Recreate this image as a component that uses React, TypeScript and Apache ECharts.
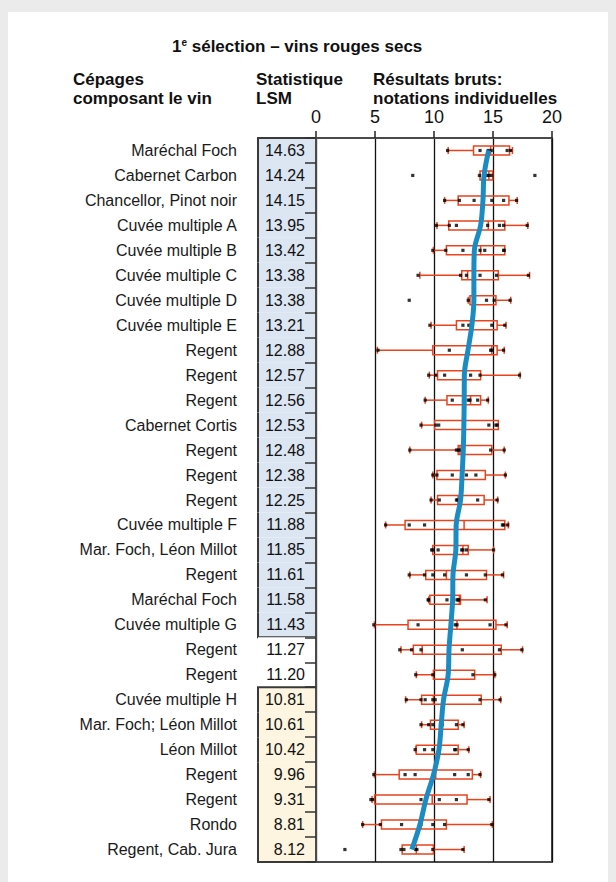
import React, { useEffect, useRef } from "react";
import * as echarts from "echarts";

const names = [
  "Maréchal Foch", "Cabernet Carbon", "Chancellor, Pinot noir", "Cuvée multiple A",
  "Cuvée multiple B", "Cuvée multiple C", "Cuvée multiple D", "Cuvée multiple E",
  "Regent", "Regent", "Regent", "Cabernet Cortis", "Regent", "Regent", "Regent",
  "Cuvée multiple F", "Mar. Foch, Léon Millot", "Regent", "Maréchal Foch",
  "Cuvée multiple G", "Regent", "Regent", "Cuvée multiple H", "Mar. Foch; Léon Millot",
  "Léon Millot", "Regent", "Regent", "Rondo", "Regent, Cab. Jura",
];

const lsm = [
  14.63, 14.24, 14.15, 13.95, 13.42, 13.38, 13.38, 13.21, 12.88, 12.57, 12.56, 12.53,
  12.48, 12.38, 12.25, 11.88, 11.85, 11.61, 11.58, 11.43, 11.27, 11.2, 10.81, 10.61,
  10.42, 9.96, 9.31, 8.81, 8.12,
];

// a = top group (blue), n = no group, b = bottom group (yellow)
const groups = [
  "a", "a", "a", "a", "a", "a", "a", "a", "a", "a", "a", "a", "a", "a", "a", "a", "a", "a", "a", "a",
  "n", "n",
  "b", "b", "b", "b", "b", "b", "b",
];

// [min, q1, median, q3, max]
const boxStats = [
  [11.2, 13.35, 14.8, 16.4, 16.65],
  [13.9, 13.9, 14.65, 14.97, 14.97],
  [10.9, 12.05, 14.1, 16.35, 17.05],
  [10.25, 11.25, 14.6, 16.0, 17.95],
  [9.95, 11.05, 13.95, 16.0, 16.0],
  [8.8, 12.35, 12.85, 15.45, 18.1],
  [12.9, 13.05, 13.4, 15.25, 16.5],
  [9.75, 11.9, 13.1, 15.35, 16.1],
  [5.2, 9.9, 14.9, 15.35, 15.95],
  [9.6, 10.3, 12.6, 13.95, 17.3],
  [9.25, 11.1, 13.1, 13.95, 14.6],
  [8.95, 10.05, 12.5, 15.45, 15.45],
  [7.95, 12.05, 12.2, 14.9, 15.95],
  [9.9, 10.25, 12.4, 14.35, 16.05],
  [9.75, 10.3, 12.05, 14.25, 15.4],
  [5.9, 7.55, 12.55, 16.0, 16.3],
  [9.9, 9.9, 12.45, 12.9, 15.05],
  [7.95, 9.3, 11.05, 14.45, 15.9],
  [9.55, 9.65, 12.15, 12.25, 14.5],
  [4.95, 7.8, 11.95, 15.25, 16.2],
  [7.2, 8.25, 9.0, 15.7, 17.5],
  [8.5, 9.95, 11.2, 13.45, 15.15],
  [7.6, 8.95, 9.95, 14.0, 15.65],
  [8.95, 9.7, 10.55, 12.05, 12.55],
  [8.45, 8.5, 10.5, 12.05, 12.95],
  [4.95, 7.05, 10.15, 13.25, 13.95],
  [4.75, 4.97, 9.85, 12.8, 14.75],
  [3.95, 5.55, 8.9, 11.05, 14.95],
  [7.3, 7.3, 8.5, 9.95, 12.55],
];

const ratings = [
  [11.15, 13.9, 14.6, 14.85, 16.2, 16.5],
  [8.2, 13.85, 14.5, 14.65, 14.85, 18.55],
  [10.9, 12.15, 13.4, 14.9, 15.9, 17.0],
  [10.2, 11.3, 11.9, 14.55, 15.55, 15.9, 17.9],
  [9.9, 11.0, 12.45, 13.9, 14.3, 15.9, 15.95],
  [8.65, 12.25, 12.75, 13.9, 15.3, 18.0],
  [7.9, 12.9, 13.4, 14.45, 15.1, 16.45],
  [9.65, 12.45, 12.95, 14.9, 16.0],
  [5.25, 11.3, 14.8, 14.9, 15.9],
  [9.55, 10.15, 10.9, 12.55, 13.1, 13.9, 17.25],
  [9.25, 11.55, 12.9, 13.05, 13.7, 14.55],
  [8.9, 10.15, 10.4, 14.65, 15.25, 15.35],
  [7.95, 11.9, 12.05, 12.2, 12.45, 14.8, 15.95],
  [9.9, 10.25, 11.55, 12.75, 13.55, 16.05],
  [9.75, 10.45, 11.9, 12.0, 13.7, 15.35],
  [5.9, 7.9, 9.2, 15.8, 15.9, 16.25],
  [9.8, 9.9, 10.35, 12.35, 12.45, 12.75, 15.05],
  [7.9, 9.2, 9.9, 10.9, 12.75, 14.35, 15.8],
  [9.5, 9.55, 11.1, 11.95, 12.05, 12.1, 14.35],
  [4.9, 8.65, 11.8, 11.95, 14.75, 16.1],
  [7.1, 8.1, 8.9, 12.4, 15.55, 17.45],
  [8.45, 9.9, 11.2, 13.3, 15.15],
  [7.65, 8.9, 9.25, 9.9, 10.1, 13.9, 15.6],
  [8.9, 9.55, 9.9, 10.55, 10.7, 11.9, 12.45],
  [8.4, 9.2, 9.9, 11.75, 11.85, 12.9],
  [4.9, 7.55, 8.4, 11.75, 12.9, 13.9],
  [4.65, 4.8, 8.9, 10.45, 11.9, 14.65],
  [3.95, 5.45, 7.25, 8.9, 9.9, 10.9, 14.9],
  [2.45, 7.2, 7.45, 8.45, 8.55, 9.9, 12.45],
];

const xMin = 0;
const xMax = 20;
const xStep = 5;

const FONT = "'Liberation Sans', Arial, Helvetica, sans-serif";
const BOX = "#e8431d";
const BLUE = "#1b8bc3";

export default function App() {
  const ref = useRef<HTMLDivElement>(null);

  useEffect(() => {
    document.body.style.margin = "0";
    const chart = echarts.init(ref.current as HTMLDivElement, null, { renderer: "svg" });
    const rowIds = names.map((_, i) => String(i));

    const option: any = {
      animation: false,
      backgroundColor: "transparent",
      textStyle: { fontFamily: FONT },
      grid: {
        left: 316, right: 64, top: 138, bottom: 20,
        show: true, borderColor: "#4a4a4a", borderWidth: 2, backgroundColor: "#fff",
      },
      xAxis: {
        type: "value", position: "top", min: xMin, max: xMax, interval: xStep,
        axisLine: { show: true, lineStyle: { color: "#4a4a4a", width: 2 } },
        axisTick: { show: true, length: 7, lineStyle: { color: "#222", width: 1.5 } },
        axisLabel: { fontSize: 18, color: "#111", margin: 12, fontFamily: FONT },
        splitLine: { show: true, lineStyle: { color: "#111", width: 1.3 } },
      },
      yAxis: {
        type: "category", data: rowIds, inverse: true, z: 5,
        axisLine: { show: true, lineStyle: { color: "#4a4a4a", width: 2 } },
        axisTick: { show: true, length: 11, lineStyle: { color: "#333", width: 1.5 } },
        axisLabel: {
          formatter: (_v: string, i: number) => names[i],
          margin: 79, fontSize: 16, color: "#1a1a1a", fontFamily: FONT,
        },
        splitLine: { show: false },
      },
      graphic: [
        {
          type: "text", x: 172, y: 46,
          style: {
            text: "{a|1}{s|e}{a| sélection – vins rouges secs}",
            verticalAlign: "middle",
            rich: {
              a: { fontSize: 17, fontWeight: "bold", fontFamily: FONT, fill: "#111" },
              s: { fontSize: 10, fontWeight: "bold", fontFamily: FONT, verticalAlign: "top", fill: "#111" },
            },
          },
        },
        {
          type: "text", x: 73, y: 70,
          style: { text: "Cépages\ncomposant le vin", font: `bold 17px ${FONT}`, lineHeight: 19, fill: "#111" },
        },
        {
          type: "text", x: 256, y: 70,
          style: { text: "Statistique\nLSM", font: `bold 17px ${FONT}`, lineHeight: 19, fill: "#111" },
        },
        {
          type: "text", x: 373, y: 70,
          style: { text: "Résultats bruts:\nnotations individuelles", font: `bold 17px ${FONT}`, lineHeight: 19, fill: "#111" },
        },
      ],
      series: [
        {
          type: "custom",
          coordinateSystem: "cartesian2d",
          clip: false,
          z: 1,
          data: lsm.map((v, i) => [0, i, v]),
          encode: { x: 0, y: 1 },
          renderItem: (params: any, api: any) => {
            const i = params.dataIndex;
            const c = api.coord([0, i]);
            const h = api.size([0, 1])[1];
            const w = 58;
            const x0 = c[0] - w;
            const x1 = c[0];
            const y0 = c[1] - h / 2;
            const y1 = c[1] + h / 2;
            const g = groups[i];
            const fill = g === "a" ? "#dce6f2" : g === "b" ? "#fdf5df" : "#ffffff";
            const children: any[] = [
              { type: "rect", shape: { x: x0, y: y0, width: w, height: h }, style: { fill } },
              {
                type: "text",
                style: {
                  text: lsm[i].toFixed(2), x: x1 - 11, y: c[1],
                  align: "right", verticalAlign: "middle",
                  font: `16px ${FONT}`, fill: "#111",
                },
              },
            ];
            if (g !== "n") {
              const ls = { stroke: "#3a3a3a", lineWidth: 2 };
              children.push({ type: "line", shape: { x1: x0, y1: y0, x2: x0, y2: y1 }, style: ls });
              if (i === 0 || groups[i - 1] !== g) {
                children.push({ type: "line", shape: { x1: x0 - 1, y1: y0, x2: x1, y2: y0 }, style: ls });
              }
              if (i === groups.length - 1 || groups[i + 1] !== g) {
                children.push({ type: "line", shape: { x1: x0 - 1, y1: y1, x2: x1, y2: y1 }, style: ls });
              }
            }
            return { type: "group", children };
          },
        },
        {
          type: "custom",
          coordinateSystem: "cartesian2d",
          z: 3,
          data: boxStats.map((s, i) => [i, ...s]),
          encode: { y: 0, x: [1, 2, 3, 4, 5] },
          renderItem: (_params: any, api: any) => {
            const i = api.value(0);
            const vals = [1, 2, 3, 4, 5].map((k) => api.value(k));
            const p = vals.map((v) => api.coord([v, i]));
            const yc = p[0][1];
            const bh = 9;
            const cap = 3.5;
            const st = { stroke: BOX, lineWidth: 1.5, fill: "none" };
            const ch: any[] = [
              { type: "rect", shape: { x: p[1][0], y: yc - bh / 2, width: p[3][0] - p[1][0], height: bh }, style: st },
              { type: "line", shape: { x1: p[2][0], y1: yc - bh / 2, x2: p[2][0], y2: yc + bh / 2 }, style: st },
            ];
            if (vals[0] < vals[1]) {
              ch.push({ type: "line", shape: { x1: p[0][0], y1: yc, x2: p[1][0], y2: yc }, style: st });
              ch.push({ type: "line", shape: { x1: p[0][0], y1: yc - cap, x2: p[0][0], y2: yc + cap }, style: st });
            }
            if (vals[4] > vals[3]) {
              ch.push({ type: "line", shape: { x1: p[3][0], y1: yc, x2: p[4][0], y2: yc }, style: st });
              ch.push({ type: "line", shape: { x1: p[4][0], y1: yc - cap, x2: p[4][0], y2: yc + cap }, style: st });
            }
            return { type: "group", children: ch };
          },
        },
        {
          type: "scatter",
          z: 4,
          symbol: "rect",
          symbolSize: 3.2,
          itemStyle: { color: "#000" },
          data: ratings.flatMap((row, i) => row.map((v) => [v, i])),
        },
        {
          type: "line",
          z: 5,
          smooth: 0.35,
          showSymbol: false,
          symbol: "none",
          lineStyle: { color: BLUE, width: 5 },
          data: lsm.map((v, i) => [v, i]),
        },
      ],
    };

    chart.setOption(option);
    return () => chart.dispose();
  }, []);

  return (
    <div style={{ position: "fixed", left: 0, top: 0, width: 616, height: 882, background: "#ebebeb" }}>
      <div style={{ position: "absolute", left: 8, top: 12, width: 600, height: 870, background: "#fff" }} />
      <div ref={ref} style={{ position: "absolute", left: 0, top: 0, width: 616, height: 882 }} />
    </div>
  );
}
